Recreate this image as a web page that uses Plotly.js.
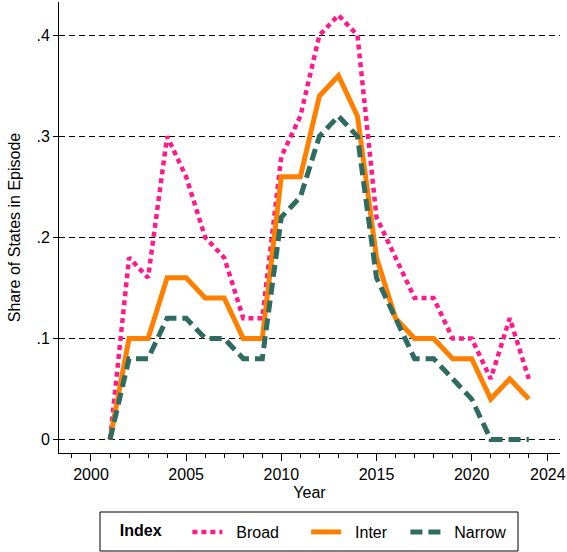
<!DOCTYPE html>
<html>
<head>
<meta charset="utf-8">
<script src="https://cdn.plot.ly/plotly-3.0.1.min.js"></script>
<style>html,body{margin:0;padding:0;background:#fff;}#chart{width:567px;height:552px;}</style>
</head>
<body>
<div id="chart"></div>
<script>
const years = [2001,2002,2003,2004,2005,2006,2007,2008,2009,2010,2011,2012,2013,2014,2015,2016,2017,2018,2019,2020,2021,2022,2023];
const broad  = [0,.18,.16,.30,.26,.20,.18,.12,.12,.28,.32,.40,.42,.40,.22,.18,.14,.14,.10,.10,.06,.12,.06];
const inter  = [0,.10,.10,.16,.16,.14,.14,.10,.10,.26,.26,.34,.36,.32,.18,.12,.10,.10,.08,.08,.04,.06,.04];
const narrow = [0,.08,.08,.12,.12,.10,.10,.08,.08,.22,.24,.30,.32,.30,.16,.12,.08,.08,.06,.04,0,0,0];
const xTicks = [2000,2005,2010,2015,2020,2024];
const yTicks = [0,.1,.2,.3,.4];
const yTickText = ['0','.1','.2','.3','.4'];
const names = ['Broad','Inter','Narrow'];

const font = 'Liberation Sans, Arial, Helvetica, sans-serif';
const NB = '\u00A0';
function pad(s, l, r){ return NB.repeat(l) + s + NB.repeat(r); }

const traces = [
  {x: years, y: broad, name: pad(names[0],2,5), mode: 'lines',
   line: {color: '#ff1a8c', width: 4.5, dash: '5px,4px'}},
  {x: years, y: inter, name: pad(names[1],2,3), mode: 'lines',
   line: {color: '#ff8000', width: 5}},
  {x: years, y: narrow, name: pad(names[2],2,0), mode: 'lines',
   line: {color: '#2e6b60', width: 5, dash: '12px,6px'}}
];

const L = 59, R = 7, T = 2, B = 99;
const W = 567, H = 552;
const pw = W - L - R, ph = H - T - B;
function px2paperY(py){ return (H - B - py) / ph; }
function px2paperX(px){ return (px - L) / pw; }

const layout = {
  width: W, height: H,
  margin: {l: L, r: R, t: T, b: B, pad: 0},
  paper_bgcolor: '#fff', plot_bgcolor: '#fff',
  font: {family: font, size: 16, color: '#000'},
  showlegend: true,
  xaxis: {
    range: [1998.32, 2024.64],
    tickmode: 'array', tickvals: xTicks, ticktext: xTicks.map(String),
    ticks: 'outside', ticklen: 7, tickwidth: 1, tickcolor: '#000',
    showline: true, linecolor: '#000', linewidth: 1,
    showgrid: false, zeroline: false,
    minor: {tickmode: 'linear', tick0: 1999, dtick: 1, ticks: 'outside', ticklen: 4, tickcolor: '#000', showgrid: false},
    tickfont: {family: font, size: 16, color: '#000'},
    title: {text: 'Year', font: {family: font, size: 16, color: '#000'}, standoff: 4}
  },
  yaxis: {
    range: [-0.0134, 0.433],
    tickmode: 'array', tickvals: yTicks, ticktext: yTickText,
    ticks: 'outside', ticklen: 5, tickwidth: 1, tickcolor: '#000',
    showline: true, linecolor: '#000', linewidth: 1,
    showgrid: true, gridcolor: '#000', gridwidth: 1, griddash: '6px,4px',
    zeroline: false,
    tickfont: {family: font, size: 16, color: '#000'},
    title: {text: 'Share of States in Episode', font: {family: font, size: 16, color: '#000'}, standoff: 11}
  },
  legend: {
    orientation: 'h', x: px2paperX(100), xanchor: 'left',
    y: px2paperY(532), yanchor: 'middle',
    borderwidth: 0, bgcolor: 'rgba(0,0,0,0)',
    font: {family: font, size: 16, color: '#000'},
    title: {text: NB.repeat(4) + '<b>Index</b>' + NB.repeat(4), side: 'left', font: {family: font, size: 16, color: '#000'}},
    itemclick: false, itemdoubleclick: false
  },
  shapes: [{
    type: 'rect', xref: 'paper', yref: 'paper',
    x0: px2paperX(100), x1: px2paperX(518), y0: px2paperY(551), y1: px2paperY(512),
    line: {color: '#000', width: 1}, fillcolor: 'rgba(0,0,0,0)', layer: 'above'
  }]
};

Plotly.newPlot('chart', traces, layout, {displayModeBar: false, staticPlot: true});
</script>
</body>
</html>
